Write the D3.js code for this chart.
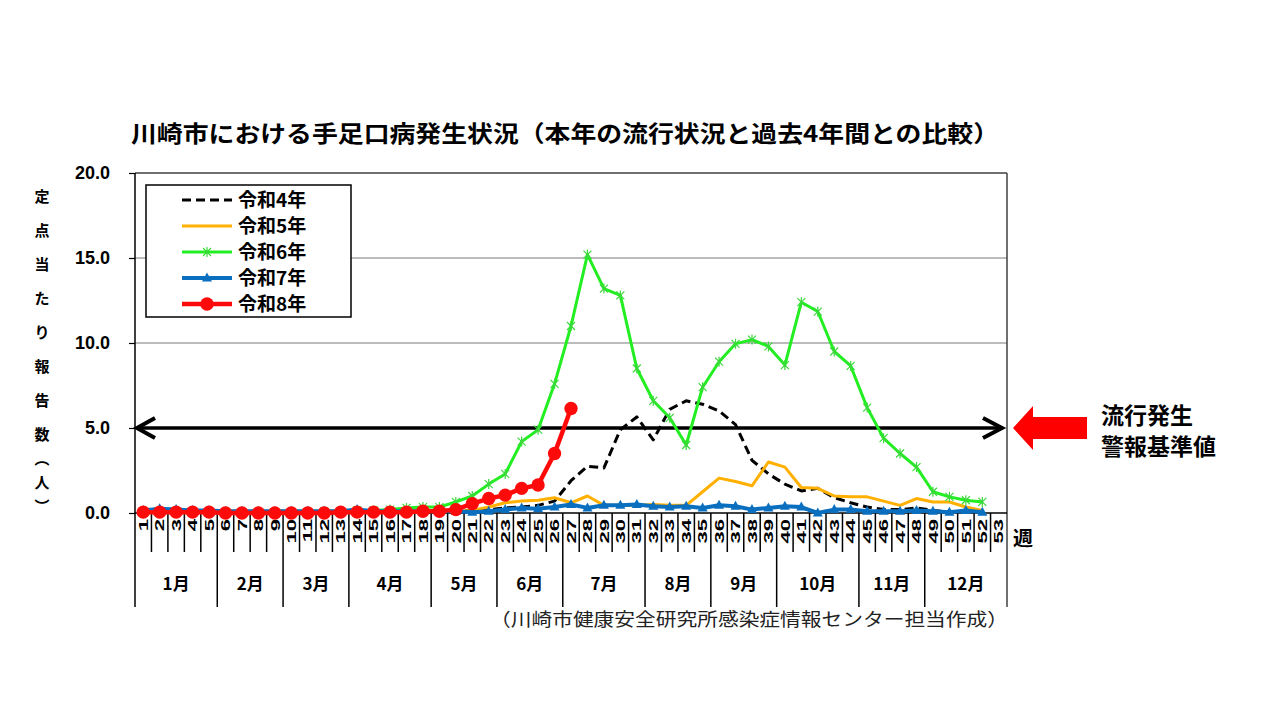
<!DOCTYPE html>
<html lang="ja">
<head>
<meta charset="utf-8">
<script src="https://cdn.jsdelivr.net/npm/d3@7"></script>
<style>
  html, body { margin: 0; padding: 0; background: #fff; }
  svg { display: block; font-family: "Noto Sans CJK JP", "Noto Sans", sans-serif; }
</style>
</head>
<body>
<svg id="chart" width="1280" height="720"></svg>
<script>
"use strict";

// weeks 1..53
const WEEKS = d3.range(1, 54);

const MONTHS = ["1月", "2月", "3月", "4月", "5月", "6月", "7月", "8月", "9月", "10月", "11月", "12月"];
const MONTH_WEEKS = [5, 4, 4, 5, 4, 4, 5, 4, 4, 5, 4, 5];

const Y_TICKS = [0, 5, 10, 15, 20];
const ALERT_LEVEL = 5.0;

const SERIES_NAMES = ["令和4年", "令和5年", "令和6年", "令和7年", "令和8年"];

const R4 = [0.05, 0.05, 0.05, 0.05, 0.05, 0.05, 0.05, 0.05, 0.05, 0.05,
            0.05, 0.05, 0.05, 0.05, 0.05, 0.05, 0.1, 0.1, 0.1, 0.1,
            0.15, 0.2, 0.3, 0.35, 0.45, 0.7, 1.9, 2.75, 2.65, 4.9,
            5.65, 4.3, 6.1, 6.6, 6.4, 6.0, 5.2, 3.1, 2.3, 1.7,
            1.3, 1.45, 0.9, 0.6, 0.35, 0.2, 0.2, 0.3, 0.15, 0.05];

const R5 = [0.1, 0.1, 0.1, 0.1, 0.1, 0.1, 0.1, 0.1, 0.1, 0.1,
            0.1, 0.1, 0.1, 0.1, 0.1, 0.1, 0.1, 0.1, 0.1, 0.1,
            0.15, 0.35, 0.6, 0.7, 0.75, 0.9, 0.6, 1.0, 0.45, 0.45,
            0.45, 0.5, 0.45, 0.45, 1.25, 2.05, 1.85, 1.6, 3.0, 2.7,
            1.5, 1.45, 1.0, 0.95, 0.95, 0.7, 0.45, 0.85, 0.65, 0.65,
            0.35, 0.15];

const R6 = [0.1, 0.1, 0.1, 0.05, 0.05, 0.05, 0.05, 0.05, 0.05, 0.05,
            0.05, 0.1, 0.1, 0.15, 0.15, 0.2, 0.3, 0.35, 0.35, 0.65,
            1.0, 1.7, 2.3, 4.2, 4.9, 7.6, 11.0, 15.2, 13.2, 12.8,
            8.5, 6.6, 5.6, 4.0, 7.4, 8.9, 9.95, 10.2, 9.8, 8.7,
            12.4, 11.85, 9.5, 8.65, 6.2, 4.4, 3.5, 2.7, 1.25, 0.95,
            0.75, 0.65];

const R7 = [0.15, 0.25, 0.2, 0.15, 0.15, 0.1, 0.1, 0.1, 0.1, 0.1,
            0.1, 0.1, 0.1, 0.2, 0.1, 0.1, 0.1, 0.1, 0.1, 0.1,
            0.05, 0.1, 0.2, 0.3, 0.25, 0.35, 0.5, 0.3, 0.45, 0.45,
            0.5, 0.4, 0.35, 0.4, 0.3, 0.45, 0.4, 0.2, 0.3, 0.4,
            0.35, 0.0, 0.2, 0.2, 0.1, 0.1, 0.1, 0.15, 0.1, 0.05,
            0.15, 0.05];

const R8 = [0.05, 0.05, 0.05, 0.05, 0.05, 0.0, 0.0, 0.0, 0.0, 0.0,
            0.0, 0.0, 0.05, 0.05, 0.05, 0.05, 0.05, 0.1, 0.1, 0.2,
            0.55, 0.85, 1.05, 1.45, 1.65, 3.5, 6.15];

const SERIES_VALUES = [R4, R5, R6, R7, R8];

const STYLES = [
  { color: "#000000", width: 3,   dash: "9,5", marker: null },
  { color: "#FFB000", width: 3,   dash: null,  marker: null },
  { color: "#22EE22", width: 3,   dash: null,  marker: "star" },
  { color: "#0B6FC0", width: 4,   dash: null,  marker: "triangle" },
  { color: "#FF0A0A", width: 4.5, dash: null,  marker: "circle" }
];

const svg = d3.select("#chart");

const plotL = 135, plotR = 1007, plotT = 173, plotB = 513;
const weekTickBottom = 552, monthBottom = 607;

const x = d3.scaleBand().domain(WEEKS).range([plotL, plotR]).padding(0);
const xc = (w) => x(w) + x.bandwidth() / 2;
const y = d3.scaleLinear().domain([0, 20]).range([plotB, plotT]);

// Title
svg.append("text")
  .attr("x", 131).attr("y", 142)
  .attr("font-size", 23).attr("font-weight", 700)
  .attr("textLength", 868).attr("lengthAdjust", "spacingAndGlyphs")
  .text("川崎市における手足口病発生状況（本年の流行状況と過去4年間との比較）");

// Gridlines
svg.append("g")
  .selectAll("line")
  .data([10, 15])
  .join("line")
  .attr("x1", plotL).attr("x2", plotR)
  .attr("y1", (d) => y(d)).attr("y2", (d) => y(d))
  .attr("stroke", "#a6a6a6").attr("stroke-width", 1.5);

// Frame
svg.append("line").attr("x1", plotL).attr("x2", plotR).attr("y1", plotT).attr("y2", plotT)
  .attr("stroke", "#404040").attr("stroke-width", 1.5);
svg.append("line").attr("x1", plotR).attr("x2", plotR).attr("y1", plotT).attr("y2", monthBottom)
  .attr("stroke", "#404040").attr("stroke-width", 1.5);
svg.append("line").attr("x1", plotL).attr("x2", plotL).attr("y1", plotT).attr("y2", monthBottom)
  .attr("stroke", "#000").attr("stroke-width", 1.5);

// Y axis
const yAxis = svg.append("g")
  .attr("transform", `translate(${plotL},0)`)
  .call(d3.axisLeft(y).tickValues(Y_TICKS).tickFormat(d3.format(".1f")).tickSize(6).tickPadding(19));
yAxis.select(".domain").remove();
yAxis.selectAll(".tick line").attr("stroke", "#000").attr("stroke-width", 1.2);
yAxis.selectAll(".tick text")
  .attr("font-family", "'Liberation Sans', Arial, sans-serif")
  .attr("font-size", 18).attr("font-weight", 700).attr("fill", "#000");

// Y axis title (vertical)
const yTitle = ["定", "点", "当", "た", "り", "報", "告", "数", "︵", "人", "︶"];
const yTitlePos = [197, 231, 265, 299, 333, 367, 401, 435, 459, 483, 507];
svg.append("g")
  .selectAll("text")
  .data(yTitle)
  .join("text")
  .attr("x", 42)
  .attr("y", (d, i) => yTitlePos[i])
  .attr("dy", "0.35em")
  .attr("text-anchor", "middle")
  .attr("font-size", 15).attr("font-weight", 700)
  .text((d) => d);

// X axis line
svg.append("line").attr("x1", plotL).attr("x2", plotR).attr("y1", plotB).attr("y2", plotB)
  .attr("stroke", "#000").attr("stroke-width", 1.5);

// Week tick lines & month divisions
const monthEnds = Array.from(d3.cumsum(MONTH_WEEKS));
const monthEndSet = new Set(monthEnds);
svg.append("g")
  .selectAll("line")
  .data(WEEKS.slice(0, 52))
  .join("line")
  .attr("x1", (w) => x(w) + x.bandwidth()).attr("x2", (w) => x(w) + x.bandwidth())
  .attr("y1", plotB)
  .attr("y2", (w) => (monthEndSet.has(w) ? monthBottom : weekTickBottom))
  .attr("stroke", "#000").attr("stroke-width", 1.5);

// Week labels (rotated)
svg.append("g")
  .selectAll("text")
  .data(WEEKS)
  .join("text")
  .attr("transform", (w) => `translate(${xc(w)},519) rotate(-90) scale(1.7,1)`)
  .attr("text-anchor", "end")
  .attr("dy", "0.36em")
  .attr("font-family", "'Liberation Sans', Arial, sans-serif")
  .attr("font-size", 13).attr("font-weight", 700)
  .text((w) => w);

svg.append("text")
  .attr("x", 1013).attr("y", 546)
  .attr("font-size", 20).attr("font-weight", 700)
  .text("週");

// Month labels
const monthStarts = [0, ...monthEnds.slice(0, -1)];
svg.append("g")
  .selectAll("text")
  .data(MONTHS)
  .join("text")
  .attr("x", (d, i) => (x(monthStarts[i] + 1) + x(monthEnds[i]) + x.bandwidth()) / 2)
  .attr("y", 590)
  .attr("text-anchor", "middle")
  .attr("font-size", 17).attr("font-weight", 700)
  .text((d) => d);

// Source note
svg.append("text")
  .attr("x", 1008).attr("y", 626)
  .attr("text-anchor", "end")
  .attr("font-size", 18).attr("fill", "#222")
  .attr("textLength", 518).attr("lengthAdjust", "spacingAndGlyphs")
  .text("（川崎市健康安全研究所感染症情報センター担当作成）");

// Alert level line with double arrows
const ay = y(ALERT_LEVEL);
svg.append("line").attr("x1", plotL + 2).attr("x2", plotR - 4).attr("y1", ay).attr("y2", ay)
  .attr("stroke", "#000").attr("stroke-width", 3.5);
svg.append("path")
  .attr("d", `M${plotL + 20},${ay - 10}L${plotL + 2},${ay}L${plotL + 20},${ay + 10}`)
  .attr("fill", "none").attr("stroke", "#000").attr("stroke-width", 4).attr("stroke-linejoin", "miter");
svg.append("path")
  .attr("d", `M${plotR - 24},${ay - 10}L${plotR - 5},${ay}L${plotR - 24},${ay + 10}`)
  .attr("fill", "none").attr("stroke", "#000").attr("stroke-width", 4).attr("stroke-linejoin", "miter");

// Lines
const line = d3.line()
  .defined((d) => d != null)
  .x((d, i) => xc(i + 1))
  .y((d) => y(d));

function markerPath(kind) {
  if (kind === "star") return "M-4,-4L4,4M-4,4L4,-4M0,-5V5";
  if (kind === "triangle") return "M0,-5.5L5,3.5L-5,3.5Z";
  return d3.symbol(d3.symbolCircle, 140)();
}

const plot = svg.append("g");
SERIES_VALUES.forEach((vals, si) => {
  const st = STYLES[si];
  plot.append("path")
    .attr("d", line(vals))
    .attr("fill", "none")
    .attr("stroke", st.color)
    .attr("stroke-width", st.width)
    .attr("stroke-dasharray", st.dash)
    .attr("stroke-linejoin", "round");

  if (st.marker) {
    plot.append("g")
      .selectAll("path")
      .data(vals.map((v, i) => ({ w: i + 1, v })))
      .join("path")
      .attr("transform", (d) => `translate(${xc(d.w)},${y(d.v)})`)
      .attr("d", markerPath(st.marker))
      .attr("fill", st.marker === "star" ? "none" : st.color)
      .attr("stroke", st.marker === "star" ? "#3ad83a" : "none")
      .attr("stroke-width", 1.2);
  }
});

// Legend
const lg = svg.append("g");
lg.append("rect")
  .attr("x", 146).attr("y", 185).attr("width", 205).attr("height", 132)
  .attr("fill", "#fff").attr("stroke", "#000").attr("stroke-width", 1.5);

SERIES_NAMES.forEach((name, i) => {
  const st = STYLES[i];
  const ly = 200 + i * 26;
  lg.append("line")
    .attr("x1", 182).attr("x2", 232).attr("y1", ly).attr("y2", ly)
    .attr("stroke", st.color).attr("stroke-width", st.width)
    .attr("stroke-dasharray", st.dash);
  if (st.marker) {
    lg.append("path")
      .attr("transform", `translate(207,${ly})`)
      .attr("d", markerPath(st.marker))
      .attr("fill", st.marker === "star" ? "none" : st.color)
      .attr("stroke", st.marker === "star" ? "#3ad83a" : "none")
      .attr("stroke-width", 1.2);
  }
  lg.append("text")
    .attr("x", 238).attr("y", ly + 7)
    .attr("font-size", 19).attr("font-weight", 700)
    .text(name);
});

// Red block arrow pointing at the alert level
svg.append("path")
  .attr("d", `M1013,${ay}L1033,${ay - 22}L1033,${ay - 11}L1087,${ay - 11}L1087,${ay + 11}L1033,${ay + 11}L1033,${ay + 22}Z`)
  .attr("fill", "#FF0000");

svg.append("text").attr("x", 1101).attr("y", 424)
  .attr("font-size", 23).attr("font-weight", 700).text("流行発生");
svg.append("text").attr("x", 1101).attr("y", 455)
  .attr("font-size", 23).attr("font-weight", 700).text("警報基準値");
</script>
</body>
</html>
